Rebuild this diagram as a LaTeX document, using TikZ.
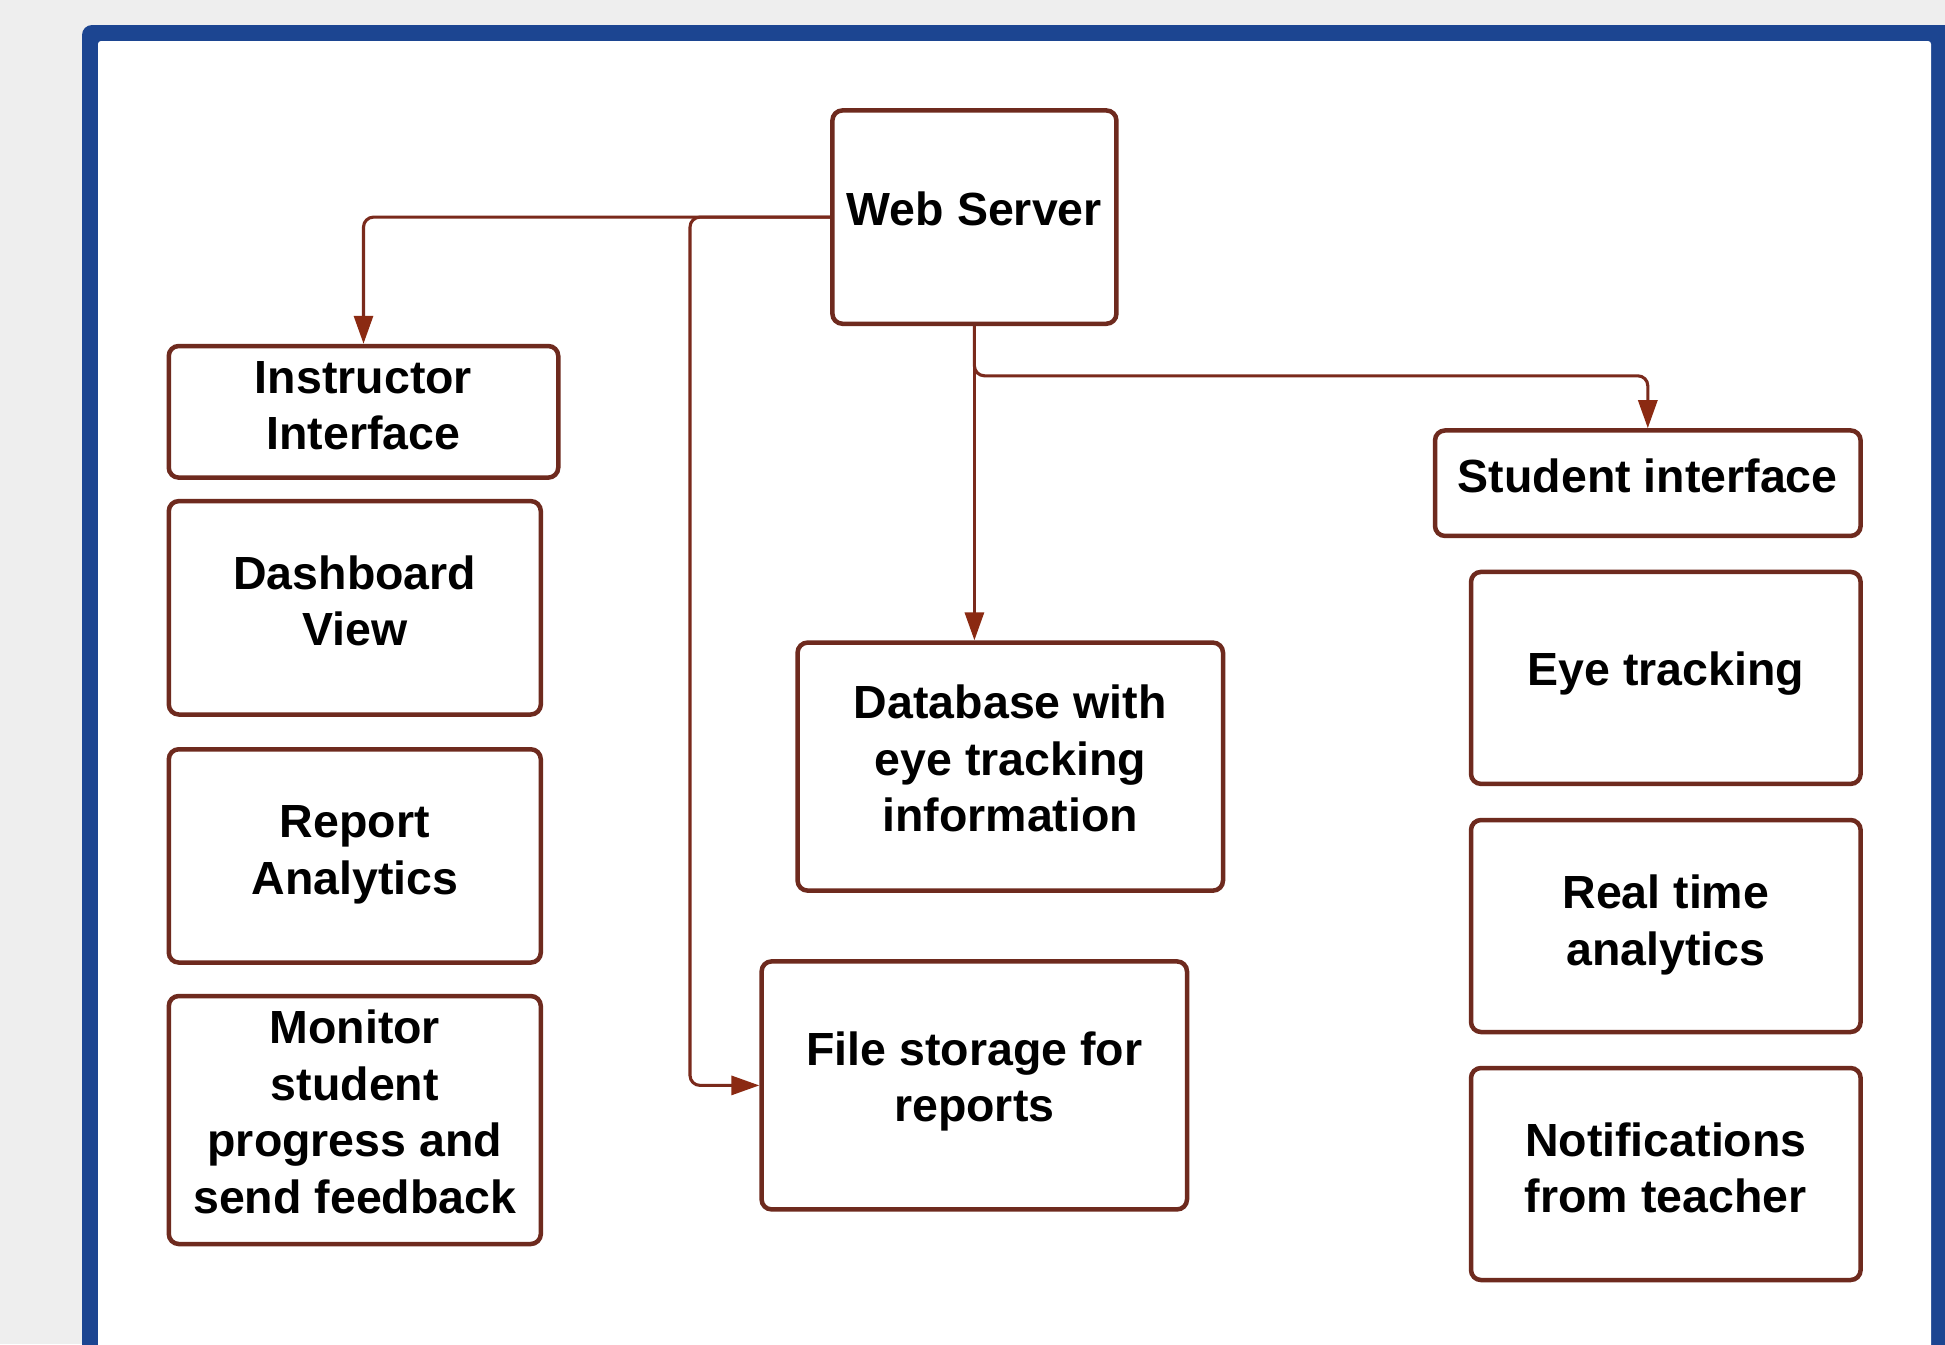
\documentclass[tikz,border=0pt]{standalone}
\usepackage{fontspec}
\setmainfont{Liberation Sans}
\usetikzlibrary{arrows.meta}
\definecolor{bgc}{HTML}{EEEEEE}
\definecolor{framec}{HTML}{1C4591}
\definecolor{boxc}{HTML}{6E2A1E}
\definecolor{linec}{HTML}{7A2A1C}
\definecolor{arrowc}{HTML}{8B2A12}
\begin{document}
\begin{tikzpicture}[x=1pt,y=-1pt,
  box/.style={draw=boxc, line width=4.5pt, rounded corners=10pt, fill=white, inner sep=0pt},
  txt/.style={font=\fontsize{46.5}{56.5}\selectfont\bfseries, align=center, text=black, inner sep=0pt},
  conn/.style={draw=linec, line width=3.1pt, rounded corners=10pt},
  tip/.style={-{Triangle[length=28pt,width=19pt,color=arrowc]}}
]
\useasboundingbox (0,0) rectangle (1945,1344);
\clip (0,0) rectangle (1945,1344);
\fill[bgc] (0,0) rectangle (1945,1344);
\fill[framec, rounded corners=10pt] (82,25) rectangle (1990,1400);
\fill[white, rounded corners=3pt] (98,41) rectangle (1931,1400);

% boxes
\node[box, minimum width=284, minimum height=213.3] (ws) at (974.4,217.1) {};
\node[box, minimum width=389.5, minimum height=131.6] (ii) at (363.5,411.8) {};
\node[box, minimum width=372, minimum height=213.4] (dv) at (354.8,607.8) {};
\node[box, minimum width=372, minimum height=213.3] (ra) at (354.8,855.9) {};
\node[box, minimum width=372, minimum height=248] (ms) at (354.8,1120) {};
\node[box, minimum width=425.4, minimum height=248] (db) at (1010.3,766.6) {};
\node[box, minimum width=425.4, minimum height=248] (fs) at (974.3,1085.4) {};
\node[box, minimum width=425.6, minimum height=105.5] (si) at (1647.8,483.2) {};
\node[box, minimum width=389.6, minimum height=212] (et) at (1665.8,677.9) {};
\node[box, minimum width=389.6, minimum height=212] (rt) at (1665.8,926) {};
\node[box, minimum width=389.6, minimum height=212] (nt) at (1665.8,1174) {};

% texts
\node[txt] (wst) at ([yshift=8pt]ws.center) {Web Server};
\node[txt] (iit) at ([yshift=6pt]ii.center) {Instructor\\Interface};
\node[txt] (dvt) at ([yshift=7pt]dv.center) {Dashboard\\View};
\node[txt] (rat) at ([yshift=1pt]ra.center) {Report\\Analytics};
\node[txt] (mst) at ([yshift=8pt]ms.center) {Monitor\\student\\progress and\\send feedback};
\node[txt] (dbt) at ([yshift=8pt]db.center) {Database with\\eye tracking\\information};
\node[txt] (fst) at ([yshift=4pt]fs.center) {File storage for\\reports};
\node[txt] (sit) at ([yshift=7pt]si.center) {Student interface};
\node[txt] (ett) at ([yshift=4pt]et.center) {Eye tracking};
\node[txt] (rtt) at ([yshift=1pt]rt.center) {Real time\\analytics};
\node[txt] (ntt) at ([yshift=6pt]nt.center) {Notifications\\from teacher};

% connectors
\coordinate (j1) at (690,217.1);
\coordinate (j2) at (1647.8,375.8);
\draw[conn, tip] (ws.west) -| (ii.north);
\draw[conn, tip] (ws.west) -| (j1 |- fs.west) -- (fs.west);
\draw[conn, tip] (ws.south) -- (ws.south |- db.north);
\draw[conn, tip] (ws.south) |- (j2) -- (si.north);
\end{tikzpicture}
\end{document}
